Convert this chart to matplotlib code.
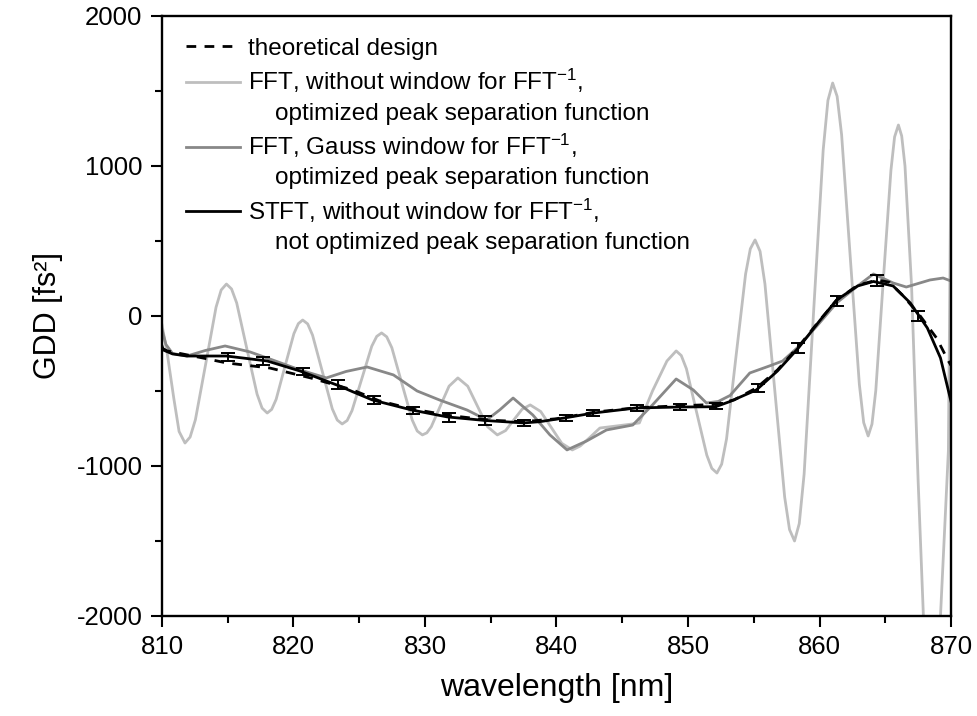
import matplotlib
matplotlib.use('Agg')
import matplotlib.pyplot as plt
from matplotlib.lines import Line2D
from matplotlib.ticker import MultipleLocator

plt.rcParams['font.family'] = ['Liberation Sans', 'DejaVu Sans']
plt.rcParams['mathtext.fontset'] = 'custom'
plt.rcParams['mathtext.rm'] = 'Liberation Sans'
plt.rcParams['mathtext.it'] = 'Liberation Sans'
plt.rcParams['mathtext.default'] = 'regular'
plt.rcParams['axes.unicode_minus'] = False

# FFT, without window (light gray)
fft_nowin_x = [810.0, 810.4, 810.9, 811.3, 811.75, 812.14, 812.54, 813.33, 814.11, 814.5, 814.9,
               815.29, 815.68, 816.45, 817.23, 817.61, 818.0, 818.34, 818.68, 819.35, 820.03, 820.37,
               820.7, 821.08, 821.45, 822.2, 822.95, 823.33, 823.7, 824.08, 824.45, 825.2, 825.95,
               826.33, 826.7, 827.09, 827.48, 828.25, 829.03, 829.41, 829.8, 830.14, 830.48, 831.15,
               831.83, 832.5, 833.25, 834.0, 834.75, 835.5, 836.13, 836.75, 837.38, 838.0, 838.8,
               839.6, 840.4, 841.2, 841.8, 842.5, 843.3, 844.6, 845.6, 846.3, 847.3, 848.4, 849.1,
               849.49, 849.88, 850.65, 851.43, 851.81, 852.2, 852.56, 852.93, 853.65, 854.38, 854.74,
               855.1, 855.48, 855.85, 856.6, 857.35, 857.72, 858.1, 858.46, 858.83, 859.55, 860.28,
               860.64, 861.0, 861.34, 861.68, 862.35, 863.03, 863.36, 863.7, 863.99, 864.28, 864.85,
               865.43, 865.71, 866.0, 866.25, 866.5, 867.0, 867.5, 867.9, 868.5, 869.2, 869.8, 870.0]
fft_nowin_y = [-60, -250, -550, -770, -847, -807, -692, -317, 58, 173, 213,
               180, 87, -217, -521, -614, -647, -623, -556, -337, -118, -51,
               -27, -53, -128, -373, -619, -694, -720, -697, -631, -417, -202,
               -136, -113, -139, -212, -453, -694, -767, -793, -779, -738, -603,
               -468, -413, -468, -603, -738, -793, -764, -693, -622, -593, -637,
               -743, -849, -893, -867, -813, -747, -733, -722, -713, -500, -300, -233,
               -264, -352, -640, -928, -1016, -1047, -988, -820, -270, 280, 448,
               507, 431, 214, -497, -1207, -1424, -1500, -1384, -1054, 27, 1107,
               1437, 1553, 1464, 1209, 377, -456, -711, -800, -721, -497, 237,
               970, 1194, 1273, 1200, 1000, 200, -1100, -2000, -2800, -2000, -900, 1100]

# FFT, Gauss window (medium gray)
fft_gauss_x = [810.0, 810.3, 810.8, 811.9, 813.3, 814.8, 816.7, 818.4, 820.5, 822.5, 824.0, 825.6,
               827.6, 829.4, 831.1, 833.2, 834.7, 835.7, 836.7, 838.2, 839.5, 840.8, 842.3, 843.8,
               845.8, 847.3, 849.1, 850.4, 851.4, 852.3, 853.2, 854.7, 856.2, 857.2, 858.3, 859.8,
               861.3, 862.9, 864.1, 865.6, 866.6, 868.4, 869.4, 870.0]
fft_gauss_y = [-90, -190, -250, -267, -230, -200, -240, -293, -360, -413, -370, -340,
               -393, -500, -560, -627, -693, -625, -547, -660, -793, -893, -833, -760,
               -727, -593, -420, -493, -580, -570, -530, -380, -333, -300, -213, -67,
               87, 200, 280, 220, 193, 240, 253, 233]

# STFT, without window (black)
stft_x = [810.0, 810.1, 810.8, 811.9, 814.9, 818.0, 820.5, 823.5, 824.5, 826.0, 829.0, 831.7, 834.6,
          837.5, 838.7, 840.6, 842.8, 846.1, 849.4, 852.1, 853.2, 855.2, 856.8, 858.4, 860.0,
          861.3, 862.9, 864.1, 865.6, 866.9, 868.2, 869.2, 870.0]
stft_y = [-200, -227, -253, -267, -267, -300, -367, -467, -505, -560, -627, -673, -697,
          -713, -705, -680, -647, -613, -607, -605, -570, -493, -367, -213, -33,
          107, 200, 230, 200, 87, -80, -280, -570]

# theoretical design (dashed)
theo_x = [810.0, 810.4, 813.1, 814.9, 818.2, 821.3, 824.5, 826.5, 829.0, 832.0, 835.0, 837.5,
          840.0, 843.0, 846.0, 849.0, 852.0, 853.5, 855.2, 856.8, 858.4, 860.0, 861.3, 862.9,
          864.4, 865.3, 866.3, 867.6, 868.9, 869.8, 870.0]
theo_y = [-215, -233, -280, -313, -347, -413, -493, -565, -620, -665, -695, -705,
          -685, -640, -612, -600, -590, -560, -480, -360, -205, -30, 105, 205,
          240, 225, 140, 7, -147, -300, -330]

# error bars on STFT
err_x = [815.0, 817.7, 820.7, 823.4, 826.1, 829.1, 831.8, 834.6, 837.5, 840.7, 842.8, 846.1,
         849.4, 852.1, 855.3, 858.4, 861.3, 864.4, 867.5]
err_y = [-275, -300, -370, -455, -560, -630, -675, -700, -715, -680, -650, -615,
         -610, -600, -480, -215, 100, 235, 0]
err_v = [25, 25, 25, 30, 25, 25, 30, 30, 20, 20, 20, 20, 20, 20, 25, 35, 35, 35, 35]

light = '#bebebe'
mid = '#888888'
lw = 2.0
dash = (0, (3.5, 3))

fig = plt.figure(figsize=(9.77, 7.16), dpi=100)
ax = fig.add_axes([0.1658, 0.1397, 0.8076, 0.838])

ax.plot(fft_nowin_x, fft_nowin_y, color=light, lw=lw, zorder=1)
ax.plot(fft_gauss_x, fft_gauss_y, color=mid, lw=lw, zorder=2)
ax.plot(stft_x, stft_y, color='black', lw=lw, zorder=3)
ax.errorbar(err_x, err_y, yerr=err_v, fmt='none', ecolor='black', elinewidth=1.4,
            capsize=5, capthick=1.4, zorder=4)
ax.plot(theo_x, theo_y, color='black', lw=lw, ls=dash, zorder=5)

ax.set_xlim(810, 870)
ax.set_ylim(-2000, 2000)
ax.xaxis.set_major_locator(MultipleLocator(10))
ax.xaxis.set_minor_locator(MultipleLocator(5))
ax.yaxis.set_major_locator(MultipleLocator(1000))
ax.yaxis.set_minor_locator(MultipleLocator(500))
ax.tick_params(which='both', direction='out', width=1.5, labelsize=18.5)
ax.tick_params(which='major', length=8, pad=6)
ax.tick_params(which='minor', length=5)
for s in ax.spines.values():
    s.set_linewidth(1.7)

ax.set_xlabel('wavelength [nm]', fontsize=23, labelpad=10)
ax.set_ylabel('GDD [fs²]', fontsize=22, labelpad=10)

blank = Line2D([], [], lw=0)
handles = [Line2D([], [], color='black', lw=lw, ls=dash),
           Line2D([], [], color=light, lw=lw), blank,
           Line2D([], [], color=mid, lw=lw), blank,
           Line2D([], [], color='black', lw=lw), blank]
labels = ['theoretical design',
          'FFT, without window for FFT$^{-1}$,',
          '    optimized peak separation function',
          'FFT, Gauss window for FFT$^{-1}$,',
          '    optimized peak separation function',
          'STFT, without window for FFT$^{-1}$,',
          '    not optimized peak separation function']
ax.legend(handles, labels, loc='upper left', bbox_to_anchor=(0.003, 1.0), frameon=False,
          fontsize=17.5, handlelength=2.2, handletextpad=0.35, labelspacing=0.3)

fig.savefig('out.png', dpi=100)
